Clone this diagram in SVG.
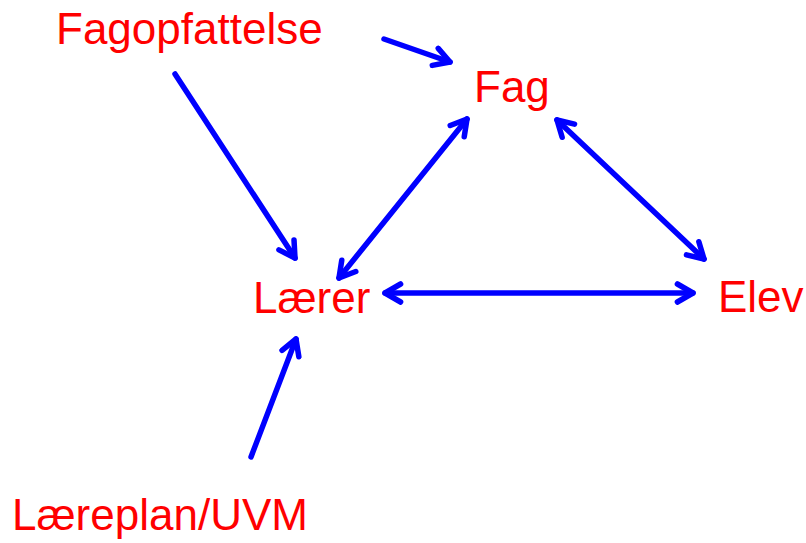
<svg xmlns="http://www.w3.org/2000/svg" width="806" height="543" viewBox="0 0 806 543">
  <defs>
    <marker id="arr" viewBox="-20 -12 24 24" refX="0" refY="0" markerWidth="24" markerHeight="24" markerUnits="userSpaceOnUse" orient="auto-start-reverse">
      <path d="M -15.6 -9 L 0 0 L -15.6 9" fill="none" stroke="#0000FF" stroke-width="5.5" stroke-linecap="round" stroke-linejoin="round"/>
    </marker>
  </defs>
  <style>
    .lbl { font-family: "Liberation Sans", Arial, sans-serif; font-size: 44px; fill: #FF0000; }
    .c { stroke: #0000FF; stroke-width: 5.5; stroke-linecap: round; fill: none; }
    .one { marker-end: url(#arr); }
    .two { marker-start: url(#arr); marker-end: url(#arr); }
  </style>
  <rect width="806" height="543" fill="#FFFFFF"/>
  <g id="connectors">
    <line class="c one" x1="384" y1="39" x2="450" y2="62"/>
    <line class="c one" x1="175" y1="74" x2="295" y2="258"/>
    <line class="c one" x1="251" y1="457" x2="296" y2="339"/>
    <line class="c two" x1="339" y1="278" x2="467" y2="119"/>
    <line class="c two" x1="557" y1="120" x2="704" y2="259"/>
    <line class="c two" x1="385" y1="293" x2="693" y2="293"/>
  </g>
  <g id="node-fagopfattelse"><text class="lbl" x="56" y="44">Fagopfattelse</text></g>
  <g id="node-fag"><text class="lbl" x="474" y="102">Fag</text></g>
  <g id="node-laerer"><text class="lbl" x="253" y="313">Lærer</text></g>
  <g id="node-elev"><text class="lbl" x="718" y="312">Elev</text></g>
  <g id="node-laereplan"><text class="lbl" x="12" y="530">Læreplan/UVM</text></g>
</svg>
